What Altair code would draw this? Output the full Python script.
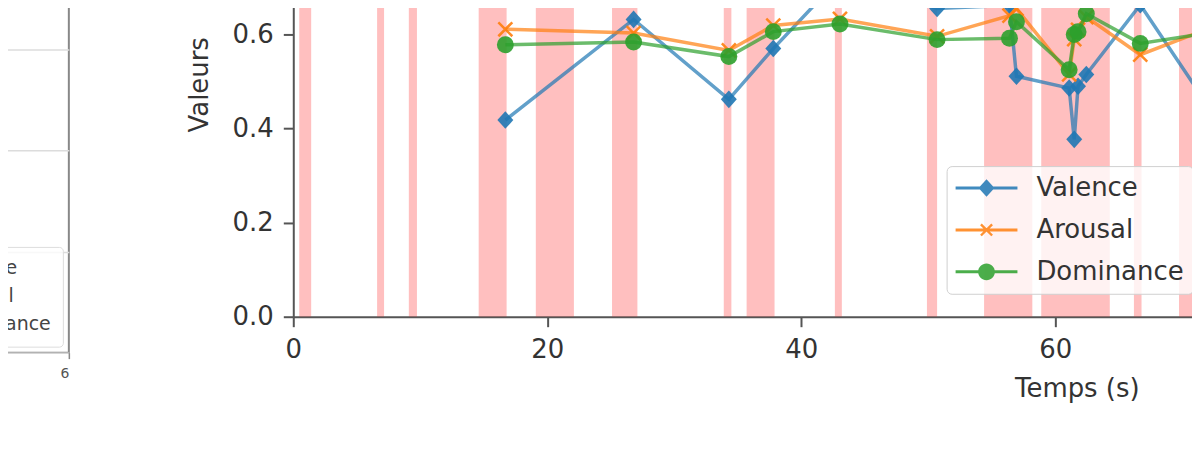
import altair as alt
import pandas as pd

FONT = "DejaVu Sans"

# ---------------- data ----------------
series = ["Valence", "Arousal", "Dominance"]
colors = ["#1f77b4", "#ff7f0e", "#2ca02c"]

temps = [16.7, 26.8, 34.3, 37.8, 43.05, 50.7, 56.4, 56.95, 61.1, 61.5, 61.8, 62.45, 66.7, 72.0]
valence = [0.418, 0.632, 0.462, 0.570, 0.720, 0.655, 0.662, 0.511, 0.486, 0.377, 0.490, 0.515, 0.663, 0.450]
arousal = [0.611, 0.603, 0.566, 0.619, 0.633, 0.596, 0.640, 0.655, 0.515, 0.590, 0.610, 0.637, 0.557, 0.612]
dominance = [0.578, 0.584, 0.553, 0.606, 0.622, 0.589, 0.592, 0.627, 0.525, 0.600, 0.606, 0.644, 0.581, 0.603]

span_debut = [0.47, 6.6, 9.1, 14.6, 19.1, 25.1, 33.9, 35.7, 42.65, 49.9, 54.4, 58.9, 66.2, 69.75]
span_fin = [1.41, 7.15, 9.74, 16.8, 22.1, 27.1, 34.5, 37.9, 43.2, 50.7, 58.2, 64.3, 66.8, 72.0]

x_domain = [0, 78.55]
x_ticks = [0, 20, 40, 60]
y_domain = [0, 0.67]
y_ticks = [0.0, 0.2, 0.4, 0.6]

# left (partially visible) subplot
left_x_domain = [0, 6]
left_x_ticks = [0, 2, 4, 6]
left_y_domain = [0, 3.47]
left_y_ticks = [0, 1, 2, 3]

# ---------------- tables ----------------
rows = []
for s, vals in zip(series, [valence, arousal, dominance]):
    for t, v in zip(temps, vals):
        rows.append({"serie": s, "t": t, "v": v})
df = pd.DataFrame(rows)
spans = pd.DataFrame({"debut": span_debut, "fin": span_fin})

# ---------------- marker shapes ----------------
diamond = "M0,-1.1L1,0L0,1.1L-1,0Z"
xmark = "M-1,-1L1,1M-1,1L1,-1"
bar = "M-3.875,-0.19H3.875V0.19H-3.875Z"
leg_diamond = bar + "M0,-1.1L1,0L0,1.1L-1,0Z"
leg_x = bar + ("M-0.594,-0.806L0.806,0.594L0.594,0.806L-0.806,-0.594Z"
               "M0.594,-0.806L0.806,-0.594L-0.594,0.806L-0.806,0.594Z")
leg_circle = bar + "M-1.05,0A1.05,1.05 0 1,1 1.05,0A1.05,1.05 0 1,1 -1.05,0Z"
legend_paths = [leg_diamond, leg_x, leg_circle]

# ---------------- main panel ----------------
x_scale = alt.Scale(domain=x_domain, nice=False, zero=False)
y_scale = alt.Scale(domain=y_domain, nice=False)

common_axis = dict(
    labelFont=FONT, labelFontSize=26, labelColor="#333", labelPadding=10,
    tickSize=10, tickWidth=2, tickColor="#555",
    domainColor="#555", domainWidth=2, grid=False,
    titleFont=FONT, titleFontSize=26, titleFontWeight="normal", titleColor="#333",
    titleAlign="center", titleBaseline="middle",
)
x_axis = alt.Axis(values=x_ticks, format="d", title="Temps (s)",
                  titleX=785.5, titleY=72, labelFlush=False, **common_axis)
y_axis = alt.Axis(values=y_ticks, format=".1f", title="Valeurs",
                  titleX=-94, titleY=83, titleAngle=270, **common_axis)

X = alt.X("t:Q", scale=x_scale, axis=x_axis)
Y = alt.Y("v:Q", scale=y_scale, axis=y_axis)

span_layer = alt.Chart(spans).mark_rect(color="red", opacity=0.25, clip=True).encode(
    x=alt.X("debut:Q", scale=x_scale, axis=x_axis),
    x2="fin:Q",
)

point_styles = {
    "Valence": dict(shape=diamond, filled=True, size=256, opacity=0.9),
    "Arousal": dict(shape=xmark, filled=False, size=196, strokeWidth=2.5, opacity=0.9),
    "Dominance": dict(shape="circle", filled=True, size=289, opacity=0.9),
}

layers = [span_layer]
for s, c in zip(series, colors):
    base = alt.Chart(df).transform_filter(alt.datum.serie == s)
    layers.append(base.mark_line(color=c, strokeWidth=3.5, opacity=0.7, clip=True).encode(x=X, y=Y))
    layers.append(base.mark_point(color=c, clip=True, **point_styles[s]).encode(x=X, y=Y))

main_legend = alt.Legend(
    title=None, orient="none", legendX=655, legendY=165,
    padding=9, rowPadding=16, labelFont=FONT, labelFontSize=26, labelColor="#333",
    symbolOffset=18, labelOffset=37, labelLimit=400, symbolSize=256, symbolStrokeWidth=0,
    symbolOpacity=0.85, fillColor="rgba(255,255,255,0.8)", strokeColor="#d0d0d0",
    cornerRadius=5,
)
legend_layer = alt.Chart(df).mark_point(filled=True, opacity=0, size=256, clip=True).encode(
    x=X, y=Y,
    color=alt.Color("serie:N", scale=alt.Scale(domain=series, range=colors), legend=main_legend),
    shape=alt.Shape("serie:N", scale=alt.Scale(domain=series, range=legend_paths), legend=main_legend),
)
layers.append(legend_layer)

main = alt.layer(*layers).properties(
    width=1000, height=316, view=alt.ViewBackground(stroke="transparent")
)

# ---------------- left panel (cut off) ----------------
left_df = pd.DataFrame({"serie": series, "x": left_x_ticks[-1], "y": left_y_ticks[0]})
left = alt.Chart(left_df).mark_point(opacity=0, size=4, clip=True).encode(
    x=alt.X("x:Q", scale=alt.Scale(domain=left_x_domain, nice=False),
            axis=alt.Axis(values=left_x_ticks, format="d", title=None, grid=False, domain=False,
                          tickSize=6, tickWidth=1.5, tickColor="#888", labelFont=FONT,
                          labelFontSize=14, labelColor="#555", labelPadding=8)),
    y=alt.Y("y:Q", scale=alt.Scale(domain=left_y_domain, nice=False),
            axis=alt.Axis(values=left_y_ticks, title=None, labels=False, ticks=False,
                          domain=False, grid=True, gridColor="#dcdcdc", gridWidth=1.5)),
    color=alt.Color("serie:N", scale=alt.Scale(domain=series, range=colors),
                    legend=alt.Legend(title=None, orient="bottom-right", offset=6, padding=12,
                                      rowPadding=8, labelFont=FONT, labelFontSize=19,
                                      labelColor="#444", labelLimit=300, symbolSize=150,
                                      fillColor="rgba(255,255,255,0.8)", strokeColor="#dddddd",
                                      cornerRadius=4)),
).properties(width=300, height=352, view=alt.ViewBackground(stroke="#888", strokeWidth=2))

chart = alt.hconcat(
    left, main, spacing=225, bounds="flush",
    padding={"left": -241, "top": -8, "right": -100, "bottom": 0},
).resolve_scale(color="independent", shape="independent").resolve_legend(
    color="independent", shape="independent"
).configure(font=FONT)

chart.save("out.html", embed_options={"renderer": "svg", "actions": False})
